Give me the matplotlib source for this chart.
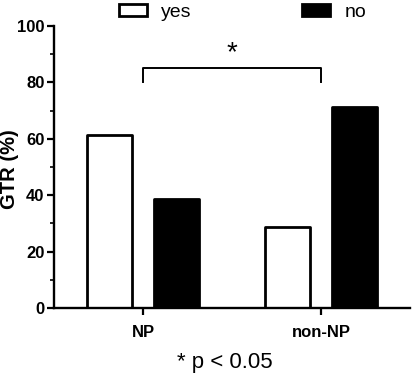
import numpy as np
import matplotlib.pyplot as plt
from matplotlib.ticker import MultipleLocator

plt.rcParams['font.family'] = ['Liberation Sans', 'DejaVu Sans']

groups = ['NP', 'non-NP']
yes_vals = [61.5, 28.6]
no_vals = [38.5, 71.4]

fig = plt.figure(figsize=(4.13, 3.77), dpi=100)
ax = fig.add_axes([0.131, 0.183, 0.862, 0.748])

x = np.arange(len(groups))
w = 0.25
b1 = ax.bar(x - 0.1875, yes_vals, w, color='white', edgecolor='black',
            linewidth=2.0, joinstyle='round', label='yes')
b2 = ax.bar(x + 0.1875, no_vals, w, color='black', edgecolor='black',
            linewidth=2.0, joinstyle='round', label='no')

ax.set_xlim(-0.5, 1.5)
ax.set_ylim(0, 100)
ax.set_xticks(x)
ax.set_xticklabels(groups, fontweight='bold', fontsize=12)
ax.yaxis.set_major_locator(MultipleLocator(20))
ax.yaxis.set_minor_locator(MultipleLocator(10))
for lab in ax.get_yticklabels():
    lab.set_fontweight('bold')
    lab.set_fontsize(12)
ax.tick_params(axis='both', which='major', width=1.6, length=5, pad=2)
ax.tick_params(axis='y', which='minor', width=1.2, length=3)
ax.tick_params(axis='x', pad=7)
ax.set_ylabel('GTR (%)', fontweight='bold', fontsize=14.5, va='center')
ax.yaxis.set_label_coords(-0.125, 0.493)
for s in ['top', 'right']:
    ax.spines[s].set_visible(False)
for s in ['left', 'bottom']:
    ax.spines[s].set_linewidth(1.7)

# significance bracket
ax.plot([0, 0, 1, 1], [80, 85, 85, 80], color='black', lw=1.4, clip_on=False)
ax.text(0.5, 90.5, '*', ha='center', va='center', fontsize=20)

fig.legend(handles=[b1, b2], labels=['yes', 'no'], loc='center',
           bbox_to_anchor=(0.587, 0.966), ncol=2, frameon=False, fontsize=14,
           handlelength=1.45, handleheight=0.57, columnspacing=5.7, handletextpad=0.72,
           borderpad=0, borderaxespad=0)

fig.text(0.545, 0.038, '* p < 0.05', ha='center', va='center', fontsize=16)

fig.savefig('out.png', dpi=100)
